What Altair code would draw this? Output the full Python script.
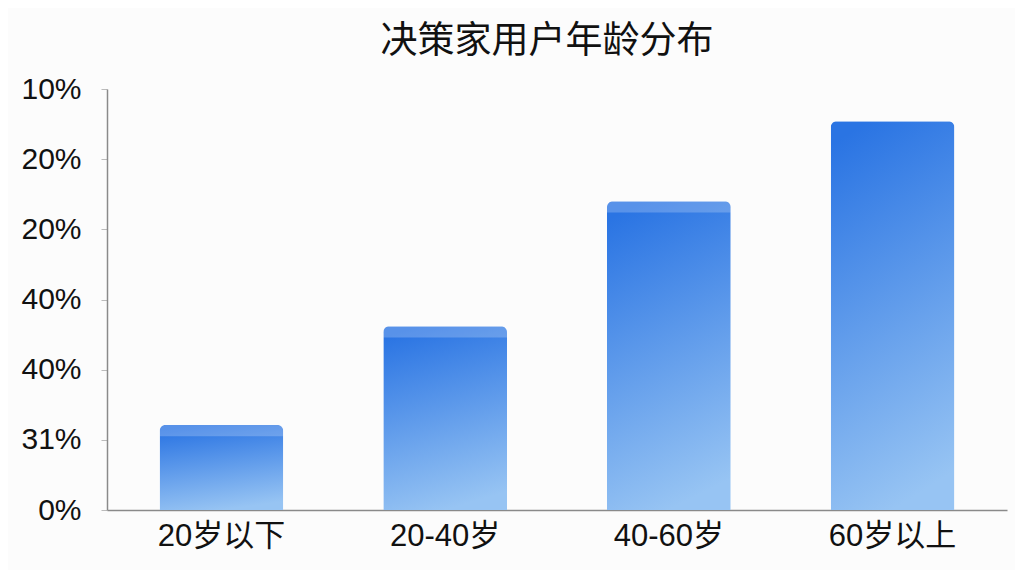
import altair as alt
import pandas as pd
import json

categories = ["20岁以下", "20-40岁", "40-60岁", "60岁以上"]
values = [1.21, 2.62, 4.40, 5.54]          # bar heights in axis-tick units
has_cap = [True, True, True, False]
tick_labels = ["0%", "31%", "40%", "40%", "20%", "20%", "10%"]  # bottom to top

df = pd.DataFrame({"cat": categories, "val": values, "cap": has_cap})

FONT = "Liberation Sans, Noto Sans CJK SC, sans-serif"
label_expr = json.dumps(tick_labels) + "[datum.value]"

x_enc = alt.X("cat:N", sort=categories, title=None,
              scale=alt.Scale(paddingInner=0.447, paddingOuter=0.235),
              axis=alt.Axis(labelAngle=0, labelFontSize=31, labelFont=FONT,
                            labelColor="#111111", labelPadding=11, ticks=False,
                            domainColor="#8a8a8a", domainWidth=1.5))
y_scale = alt.Scale(domain=[0, 6], nice=False)
y_axis = alt.Axis(values=list(range(len(tick_labels))), labelExpr=label_expr,
                  labelFontSize=30, labelFont=FONT, labelColor="#111111",
                  labelPadding=20, tickSize=6, tickColor="#bbbbbb",
                  domainColor="#8a8a8a", domainWidth=1.5, grid=False, title=None)

grad = alt.Gradient(gradient="linear",
                    stops=[alt.GradientStop(color="#2A74E3", offset=0),
                           alt.GradientStop(color="#97C4F3", offset=1)],
                    x1=0.3, x2=0.5, y1=0, y2=1)

bars = alt.Chart(df).mark_bar(color=grad, cornerRadiusTopLeft=6,
                              cornerRadiusTopRight=6).encode(
    x=x_enc,
    y=alt.Y("val:Q", scale=y_scale, axis=y_axis),
)

caps = alt.Chart(df).transform_filter("datum.cap").transform_calculate(
    lo="datum.val - 0.16"
).mark_bar(color="white", opacity=0.22, cornerRadiusTopLeft=6,
           cornerRadiusTopRight=6).encode(
    x=alt.X("cat:N", sort=categories),
    y=alt.Y("val:Q", scale=y_scale),
    y2="lo:Q",
)

chart = alt.layer(bars, caps).properties(
    width=900, height=421,
    title=alt.TitleParams("决策家用户年龄分布", fontSize=37, font=FONT,
                          fontWeight="normal", color="#111111", offset=13,
                          dx=-10, anchor="middle"),
    autosize=alt.AutoSizeParams(type="none"),
    padding={"left": 99, "top": 81, "right": 8, "bottom": 60},
    background="#fcfcfc",
).configure_view(stroke=None)

chart.save("out.html", embed_options={"renderer": "svg", "actions": False})
